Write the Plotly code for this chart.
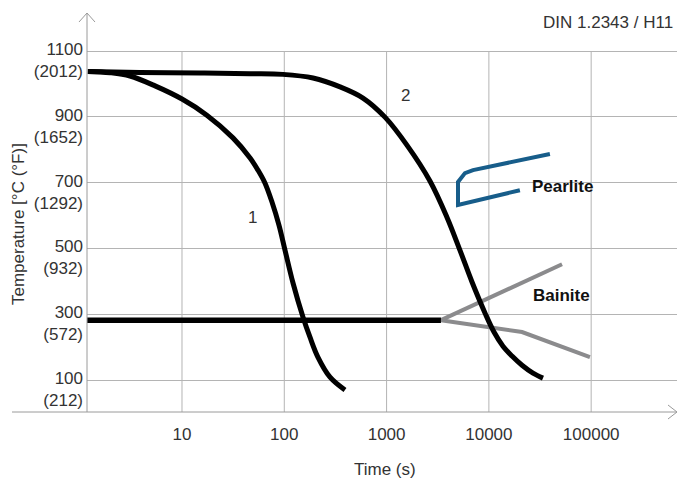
import plotly.graph_objects as go
import numpy as np

# Cooling curves (time in s, temperature in °C)
curve1_t = [1.2, 1.98, 3.1, 5.45, 10, 17.5, 31.5, 46.3, 55.3, 64.7, 75.8, 88.7, 101.6, 121.7, 152.5, 178, 213, 280, 392]
curve1_T = [1038, 1034, 1024, 994, 954, 905, 836, 775, 738, 699, 641, 571, 495, 395, 291, 231, 170, 109, 70]

curve2_t = [1.2, 3.89, 15, 46.3, 97, 191, 351, 588, 964, 1581, 2654, 3890, 5210, 6840, 9160, 11220, 13740, 16830, 21100, 27000, 33800]
curve2_T = [1038, 1035, 1033, 1031, 1029, 1018, 991, 957, 899, 814, 705, 595, 495, 398, 304, 246, 203, 173, 145, 121, 106]

# Martensite start line
ms_t = [1.18, 3400]
ms_T = [282, 282]

# Bainite region boundaries
bain_upper_t = [3400, 51900]
bain_upper_T = [282, 452]
bain_lower_t = [3400, 21100, 97300]
bain_lower_T = [282, 246, 170]

# Pearlite nose
pearl_t = [39500, 7000, 5840, 4990, 4990, 20100]
pearl_T = [787, 738, 729, 702, 632, 677]

# Axis ticks
x_ticks = [10, 100, 1000, 10000, 100000]
x_ticktext = ["10", "100", "1000", "10000", "100000"]
y_ticks = [100, 300, 500, 700, 900, 1100]
y_ticks_f = [212, 572, 932, 1292, 1652, 2012]

FONT = "Liberation Sans, Arial, sans-serif"
TXT = "#333333"
GRID = "#b4b4b4"
AXIS = "#9a9a9a"

X_RANGE = [0.0714, 5.839]
Y_RANGE = [3, 1215.5]

fig = go.Figure()

fig.add_trace(go.Scatter(x=bain_upper_t, y=bain_upper_T, mode="lines",
                         line=dict(color="#8b8b8d", width=4), hoverinfo="skip"))
fig.add_trace(go.Scatter(x=bain_lower_t, y=bain_lower_T, mode="lines",
                         line=dict(color="#8b8b8d", width=4), hoverinfo="skip"))
fig.add_trace(go.Scatter(x=pearl_t, y=pearl_T, mode="lines",
                         line=dict(color="#175d8a", width=4), hoverinfo="skip"))
fig.add_trace(go.Scatter(x=ms_t, y=ms_T, mode="lines",
                         line=dict(color="#000000", width=5.5), hoverinfo="skip"))
fig.add_trace(go.Scatter(x=curve1_t, y=curve1_T, mode="lines",
                         line=dict(color="#000000", width=5, shape="spline", smoothing=1.0),
                         hoverinfo="skip"))
fig.add_trace(go.Scatter(x=curve2_t, y=curve2_T, mode="lines",
                         line=dict(color="#000000", width=5, shape="spline", smoothing=1.0),
                         hoverinfo="skip"))

shapes = []
# vertical grid lines stop at the 1100 °C level
for xv in x_ticks:
    shapes.append(dict(type="line", xref="x", yref="y", x0=xv, x1=xv,
                       y0=Y_RANGE[0], y1=1100, layer="below",
                       line=dict(color=GRID, width=1)))
# axis lines with open arrow heads
shapes.append(dict(type="line", xref="paper", yref="paper", x0=0, x1=0, y0=0, y1=1,
                   line=dict(color=AXIS, width=1)))
shapes.append(dict(type="line", xref="paper", yref="paper", x0=-0.1271, x1=1.0, y0=0, y1=0,
                   line=dict(color=AXIS, width=1)))
shapes.append(dict(type="path", xref="paper", yref="paper",
                   path="M -0.01356 0.9774 L 0 1 L 0.01356 0.9774",
                   line=dict(color=AXIS, width=1)))
shapes.append(dict(type="path", xref="paper", yref="paper",
                   path="M 0.98475 0.01754 L 1 0 L 0.98475 -0.01754",
                   line=dict(color=AXIS, width=1)))

annotations = [
    dict(text="DIN 1.2343 / H11", xref="paper", yref="paper", x=0.9966, y=0.9774,
         xanchor="right", yanchor="middle", showarrow=False,
         font=dict(size=17, color=TXT, family=FONT)),
    dict(text="1", xref="x", yref="y", x=np.log10(49.4), y=595,
         showarrow=False, font=dict(size=17, color=TXT, family=FONT)),
    dict(text="2", xref="x", yref="y", x=np.log10(1514), y=966,
         showarrow=False, font=dict(size=17, color=TXT, family=FONT)),
    dict(text="<b>Pearlite</b>", xref="x", yref="y", x=np.log10(25100), y=687,
         xanchor="left", showarrow=False, font=dict(size=17, color="#111111", family=FONT)),
    dict(text="<b>Bainite</b>", xref="x", yref="y", x=np.log10(25700), y=358,
         xanchor="left", showarrow=False, font=dict(size=17, color="#111111", family=FONT)),
    dict(text="Time (s)", xref="paper", yref="paper", x=0.505, y=-0.145,
         xanchor="center", yanchor="middle", showarrow=False,
         font=dict(size=17, color=TXT, family=FONT)),
    dict(text="Temperature [°C (°F)]", xref="paper", yref="paper", x=-0.117, y=0.471,
         xanchor="center", yanchor="middle", textangle=-90, showarrow=False,
         font=dict(size=17, color=TXT, family=FONT)),
]

fig.update_layout(
    width=693, height=484,
    margin=dict(l=87, r=16, t=13, b=72),
    paper_bgcolor="white", plot_bgcolor="white",
    showlegend=False,
    shapes=shapes, annotations=annotations,
    font=dict(family=FONT, size=17, color=TXT),
)
fig.update_xaxes(type="log", range=X_RANGE, tickvals=x_ticks, ticktext=x_ticktext,
                 showgrid=False, zeroline=False, showline=False, ticks="",
                 ticklabelstandoff=10, tickfont=dict(size=17, color=TXT, family=FONT))
fig.update_yaxes(range=Y_RANGE, tickvals=y_ticks,
                 ticktext=[f"{c}<br>({f})" for c, f in zip(y_ticks, y_ticks_f)],
                 showgrid=True, gridcolor=GRID, gridwidth=1, zeroline=False, showline=False,
                 ticks="", ticklabelshift=9, ticklabelstandoff=3,
                 tickfont=dict(size=17, color=TXT, family=FONT))

fig.write_html("out.html")
